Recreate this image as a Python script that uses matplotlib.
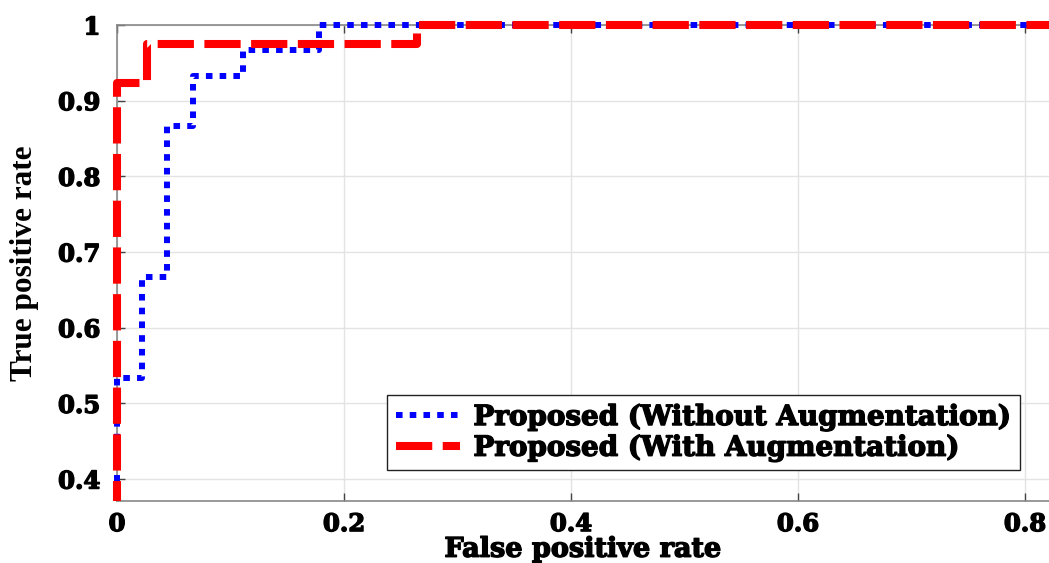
import numpy as np
import matplotlib
matplotlib.use('Agg')
import matplotlib.pyplot as plt
import matplotlib.patheffects as pe
from matplotlib.patches import Rectangle

# ROC points (fpr, tpr), drawn as steps
fpr_without = [0.0, 0.022, 0.044, 0.067, 0.111, 0.178, 1.0]
tpr_without = [0.0, 0.533, 0.667, 0.867, 0.933, 0.967, 1.0]

fpr_with = [0.0, 0.026, 0.264, 1.0]
tpr_with = [0.0, 0.923, 0.975, 1.0]

label_without = 'Proposed (Without Augmentation)'
label_with = 'Proposed (With Augmentation)'

xticks = [0, 0.2, 0.4, 0.6, 0.8]
xtick_labels = ['0', '0.2', '0.4', '0.6', '0.8']
yticks = [0.4, 0.5, 0.6, 0.7, 0.8, 0.9, 1.0]
ytick_labels = ['0.4', '0.5', '0.6', '0.7', '0.8', '0.9', '1']

W, H = 1049, 563
fig = plt.figure(figsize=(W / 100, H / 100), dpi=100)
ax = fig.add_axes([117 / W, 62 / H, (W - 117) / W, 476 / H])

heavy = [pe.withStroke(linewidth=1.0, foreground='black')]

# clip region a bit wider than the axes on the left/top, like the original
clip = Rectangle((-0.02, 0), 1.04, 1.05, transform=ax.transAxes)

l1, = ax.plot(fpr_without, tpr_without, drawstyle='steps-pre', color='#0000ff',
              lw=4.3, dashes=(1.1, 1.2), label=label_without, zorder=3,
              dash_capstyle='butt')
l2, = ax.plot(fpr_with, tpr_with, drawstyle='steps-pre', color='#ff0000',
              lw=5.8, dashes=(4.5, 1.3), label=label_with, zorder=4,
              dash_capstyle='butt')
l1.set_clip_path(clip)
l2.set_clip_path(clip)

ax.set_xlim(0, (W - 117) / 1135)
ax.set_ylim(0.371, 1.0)
ax.set_xticks(xticks)
ax.set_xticklabels(xtick_labels)
ax.set_yticks(yticks)
ax.set_yticklabels(ytick_labels)

ax.grid(True, color='#e3e3e3', lw=1)
ax.set_axisbelow(True)
ax.tick_params(direction='in', length=6, width=1, color='#444444',
               top=True, right=False)
ax.tick_params(axis='x', pad=8)
ax.tick_params(axis='y', pad=12)
for lab in ax.get_xticklabels() + ax.get_yticklabels():
    lab.set_fontfamily('DejaVu Serif')
    lab.set_fontweight('bold')
    lab.set_fontsize(17.5)
    lab.set_path_effects(heavy)

for s in ['left', 'bottom', 'top']:
    ax.spines[s].set_color('#888888')
    ax.spines[s].set_linewidth(1.2)
ax.spines['right'].set_visible(False)

xl = ax.set_xlabel('False positive rate', fontfamily='DejaVu Serif',
                   fontweight='bold', fontsize=19.5)
xl.set_path_effects(heavy)
ax.xaxis.set_label_coords(0.5, -0.073)
yl = ax.set_ylabel('True positive rate', fontfamily='Liberation Serif',
                   fontweight='bold', fontsize=22.5)
ax.yaxis.set_label_coords(-0.084, 0.5)

leg = ax.legend(loc='lower left', bbox_to_anchor=(0.29, 0.065),
                borderaxespad=0,
                prop={'family': 'DejaVu Serif', 'weight': 'bold', 'size': 20},
                frameon=True, fancybox=False, framealpha=1,
                edgecolor='#222222', handlelength=2.3, borderpad=0.3,
                labelspacing=0.12, handletextpad=0.5)
leg.get_frame().set_linewidth(1.0)
for t in leg.get_texts():
    t.set_path_effects(heavy)

fig.savefig('out.png', dpi=100)
